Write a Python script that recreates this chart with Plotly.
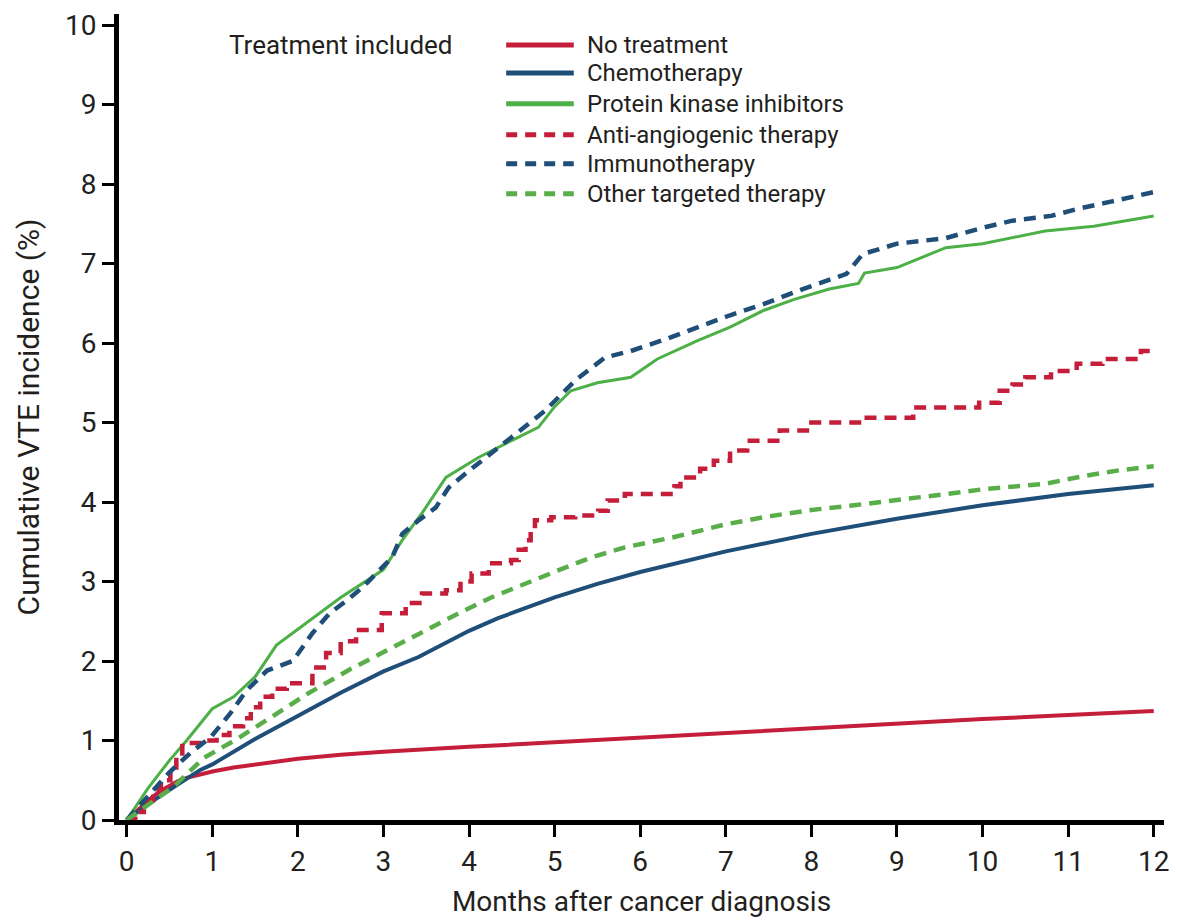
import plotly.graph_objects as go

# ---- data (months after diagnosis, cumulative VTE incidence %) ----
no_tx_x = [0, 0.1, 0.2, 0.3, 0.4, 0.5, 0.6, 0.7, 0.8, 1.0, 1.25, 1.5, 2, 2.5, 3, 4, 5, 6, 7, 8, 9, 10, 11, 12]
no_tx_y = [0, 0.1, 0.2, 0.29, 0.37, 0.43, 0.49, 0.53, 0.56, 0.61, 0.66, 0.7, 0.77, 0.82, 0.86, 0.92, 0.98, 1.04, 1.1, 1.16, 1.22, 1.27, 1.32, 1.37]

chemo_x = [0, 0.25, 0.5, 0.86, 1.0, 1.5, 2.02, 2.5, 3.0, 3.41, 4.0, 4.34, 5.0, 5.5, 6.0, 7, 8, 9, 10, 11, 12]
chemo_y = [0, 0.2, 0.38, 0.63, 0.7, 1.02, 1.32, 1.6, 1.87, 2.05, 2.38, 2.54, 2.8, 2.97, 3.12, 3.38, 3.6, 3.79, 3.96, 4.1, 4.21]

pki_x = [0, 0.25, 0.5, 0.7, 1.0, 1.25, 1.5, 1.75, 2.0, 2.25, 2.5, 2.76, 3.0, 3.22, 3.45, 3.73, 4.11, 4.49, 4.81, 5.0, 5.19, 5.5, 5.89, 6.2, 6.67, 7.05, 7.44, 7.8, 8.21, 8.55, 8.62, 9.0, 9.3, 9.57, 10.0, 10.35, 10.73, 11.3, 11.9, 12]
pki_y = [0, 0.4, 0.75, 1.0, 1.4, 1.55, 1.8, 2.2, 2.4, 2.6, 2.8, 2.98, 3.15, 3.52, 3.86, 4.31, 4.56, 4.77, 4.94, 5.2, 5.4, 5.5, 5.57, 5.8, 6.03, 6.2, 6.41, 6.55, 6.68, 6.75, 6.88, 6.95, 7.08, 7.2, 7.25, 7.33, 7.41, 7.47, 7.58, 7.6]

anti_x = [0, 0.1, 0.2, 0.31, 0.4, 0.51, 0.58, 0.65, 0.9, 1.05, 1.2, 1.36, 1.45, 1.56, 1.7, 1.87, 2.17, 2.33, 2.5, 2.68, 2.98, 3.26, 3.45, 3.73, 3.9, 4.03, 4.23, 4.49, 4.58, 4.66, 4.72, 4.77, 4.96, 5.24, 5.51, 5.62, 5.82, 6.4, 6.47, 6.7, 6.86, 7.05, 7.25, 7.63, 8.0, 8.6, 9.19, 9.96, 10.2, 10.35, 10.5, 10.8, 11.1, 11.4, 11.85, 12]
anti_y = [0, 0.1, 0.25, 0.38, 0.5, 0.63, 0.8, 0.97, 1.0, 1.07, 1.18, 1.28, 1.42, 1.55, 1.65, 1.72, 1.92, 2.1, 2.25, 2.39, 2.6, 2.73, 2.85, 2.89, 3.0, 3.1, 3.23, 3.27, 3.4, 3.52, 3.65, 3.77, 3.81, 3.83, 3.89, 4.02, 4.1, 4.2, 4.31, 4.42, 4.52, 4.65, 4.77, 4.9, 5.0, 5.06, 5.19, 5.25, 5.4, 5.48, 5.57, 5.65, 5.74, 5.8, 5.9, 5.9]

immuno_x = [0, 0.25, 0.5, 0.75, 0.98, 1.21, 1.4, 1.64, 1.94, 2.17, 2.37, 2.57, 2.76, 2.95, 3.1, 3.22, 3.41, 3.61, 3.76, 3.96, 4.19, 4.49, 4.89, 5.24, 5.59, 5.89, 6.3, 6.67, 7.05, 7.44, 7.9, 8.41, 8.6, 9.0, 9.57, 10.0, 10.35, 10.8, 11.12, 11.5, 11.9, 12]
immuno_y = [0, 0.3, 0.6, 0.85, 1.04, 1.34, 1.63, 1.88, 2.0, 2.35, 2.6, 2.76, 2.93, 3.14, 3.3, 3.6, 3.77, 3.93, 4.18, 4.36, 4.56, 4.81, 5.15, 5.53, 5.82, 5.9, 6.05, 6.2, 6.35, 6.49, 6.68, 6.87, 7.12, 7.25, 7.32, 7.45, 7.54, 7.6, 7.69, 7.78, 7.88, 7.9]

other_x = [0, 0.3, 0.55, 0.9, 1.29, 1.67, 2.1, 2.6, 3.1, 3.5, 3.88, 4.26, 4.66, 5.04, 5.42, 5.82, 6.4, 7.0, 7.5, 8.0, 8.5, 9.0, 9.57, 10.0, 10.73, 11.2, 11.6, 12]
other_y = [0, 0.22, 0.42, 0.78, 1.02, 1.28, 1.58, 1.89, 2.17, 2.39, 2.6, 2.8, 2.98, 3.14, 3.3, 3.43, 3.56, 3.72, 3.82, 3.9, 3.96, 4.02, 4.1, 4.16, 4.23, 4.33, 4.4, 4.45]

series_names = ["No treatment", "Chemotherapy", "Protein kinase inhibitors",
                "Anti-angiogenic therapy", "Immunotherapy", "Other targeted therapy"]
x_ticks = list(range(13))
y_ticks = list(range(11))

RED = "#C41E3A"
BLUE = "#1F4E79"
GREEN = "#4DB047"
GREEN_D = "#5AAE4A"

FONT = "Roboto, Liberation Sans, Arial, sans-serif"
INK = "#231F20"
DASH = "12px,8px"

styles = [
    (no_tx_x, no_tx_y, RED, 4, "solid", "linear"),
    (chemo_x, chemo_y, BLUE, 4, "solid", "linear"),
    (pki_x, pki_y, GREEN, 3, "solid", "linear"),
    (anti_x, anti_y, RED, 4.5, DASH, "hv"),
    (immuno_x, immuno_y, BLUE, 4.5, DASH, "linear"),
    (other_x, other_y, GREEN_D, 4.5, DASH, "linear"),
]

fig = go.Figure()
for name, (xs, ys, color, width, dash, shape) in zip(series_names, styles):
    fig.add_trace(go.Scatter(
        x=xs, y=ys, mode="lines", name=name, showlegend=False,
        line=dict(color=color, width=width, dash=dash, shape=shape),
    ))

fig.update_layout(
    width=1178, height=924,
    margin=dict(l=119, r=9, t=13, b=104),
    paper_bgcolor="white", plot_bgcolor="white",
    font=dict(family=FONT, size=28, color=INK),
    showlegend=False,
    xaxis=dict(
        range=[-0.09, 12.12], tickmode="array", tickvals=x_ticks,
        ticktext=[str(i) for i in x_ticks],
        showline=True, linecolor="black", linewidth=5, ticks="outside",
        ticklen=12, tickwidth=3, tickcolor="black", showgrid=False, zeroline=False,
        title=dict(text="Months after cancer diagnosis", font=dict(size=28), standoff=16),
        tickfont=dict(size=28),
    ),
    yaxis=dict(
        range=[0, 10.14], tickmode="array", tickvals=y_ticks,
        ticktext=[str(i) for i in y_ticks],
        showline=True, linecolor="black", linewidth=5, ticks="outside",
        ticklen=12, tickwidth=3, tickcolor="black", showgrid=False, zeroline=False,
        title=dict(text="Cumulative VTE incidence (%)", font=dict(size=30), standoff=18),
        tickfont=dict(size=28),
    ),
)

# ---- legend drawn as shapes + text (paper coordinates) ----
leg_rows = [0.9616, 0.9269, 0.8885, 0.8501, 0.8141, 0.7770]
for name, (xs, ys, color, width, dash, shape), yy in zip(series_names, styles, leg_rows):
    fig.add_shape(type="line", xref="paper", yref="paper",
                  x0=0.3705, x1=0.4352, y0=yy, y1=yy,
                  line=dict(color=color, width=5, dash=("solid" if dash == "solid" else "11px,8px")))
    fig.add_annotation(text=name, xref="paper", yref="paper", x=0.4457, y=yy,
                       xanchor="left", yanchor="middle", showarrow=False,
                       font=dict(size=24, family=FONT, color=INK))

fig.add_annotation(
    text="Treatment included", xref="paper", yref="paper",
    x=0.1038, y=0.9616, xanchor="left", yanchor="middle",
    showarrow=False, font=dict(size=26, family=FONT, color=INK),
)

fig.write_html("out.html")
